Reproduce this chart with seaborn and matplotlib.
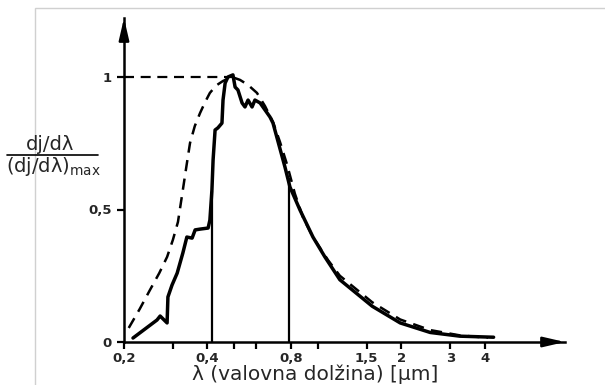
import numpy as np
import pandas as pd
import matplotlib
matplotlib.use("Agg")
import matplotlib.pyplot as plt
from matplotlib.lines import Line2D
from matplotlib.patches import Rectangle
import seaborn as sns

# ---- data ----
# black body (dashed) curve
bb_lambda = [0.208, 0.228, 0.248, 0.268, 0.286, 0.300, 0.313, 0.326, 0.336, 0.346,
             0.360, 0.376, 0.392, 0.408, 0.430, 0.455, 0.49,
             0.524, 0.560, 0.603, 0.645, 0.689, 0.730, 0.774, 0.826, 0.884, 0.96,
             1.088, 1.2, 1.57, 1.98, 2.54, 3.25, 4.1]
bb_value = [0.053, 0.125, 0.196, 0.260, 0.321, 0.385, 0.453, 0.574, 0.665, 0.751,
            0.815, 0.864, 0.905, 0.94, 0.968, 0.985, 1.0,
            0.989, 0.970, 0.94, 0.890, 0.83, 0.755, 0.67, 0.56, 0.47, 0.396,
            0.309, 0.25, 0.15, 0.085, 0.045, 0.025, 0.016]
# solar spectrum (solid) curve
sun_lambda = [0.2155, 0.263, 0.270, 0.286, 0.288, 0.298, 0.311, 0.326, 0.337, 0.352,
              0.361, 0.376, 0.402, 0.408, 0.415, 0.419, 0.426, 0.436, 0.451, 0.455,
              0.463, 0.474, 0.494, 0.503, 0.515, 0.533, 0.546, 0.56, 0.579, 0.593,
              0.619, 0.672, 0.689, 0.761, 0.793, 0.862, 0.96, 1.06, 1.2, 1.57,
              1.98, 2.54, 3.25, 4.3]
sun_value = [0.015, 0.083, 0.098, 0.072, 0.17, 0.215, 0.26, 0.336, 0.396, 0.392,
             0.423, 0.426, 0.43, 0.46, 0.574, 0.687, 0.80, 0.808, 0.826, 0.913,
             0.977, 1.0, 1.008, 0.962, 0.951, 0.902, 0.887, 0.913, 0.887, 0.913,
             0.902, 0.849, 0.826, 0.66, 0.585, 0.498, 0.396, 0.321, 0.235, 0.135,
             0.072, 0.036, 0.022, 0.018]
# visible range boundaries
vis_lambda = [0.415, 0.785]
vis_top = [0.57, 0.62]
# ticks
major_ticks = [0.2, 0.4, 0.8, 1.5, 2, 3, 4]
major_labels = ["0,2", "0,4", "0,8", "1,5", "2", "3", "4"]
minor_ticks = [0.3, 0.5, 0.6, 1.0]
y_ticks = [0, 0.5, 1]
y_labels = ["0", "0,5", "1"]

sns.set_style("white")
plt.rcParams["font.family"] = ["DejaVu Sans"]

W, H = 605, 385
fig = plt.figure(figsize=(W / 100, H / 100), dpi=100)
ax = fig.add_axes([124 / W, 43 / H, (565 - 124) / W, (342 - 18) / H])

bb = pd.DataFrame({"lam": bb_lambda, "val": bb_value})
sun = pd.DataFrame({"lam": sun_lambda, "val": sun_value})

sns.lineplot(data=bb, x="lam", y="val", ax=ax, color="black", lw=1.8,
             linestyle=(0, (4.5, 3)), sort=False)
sns.lineplot(data=sun, x="lam", y="val", ax=ax, color="black", lw=2.5, sort=False)
ax.vlines(vis_lambda, 0, vis_top, color="black", lw=1.6)
ax.hlines(1, 0.2, bb_lambda[bb_value.index(1.0)], color="black", lw=1.6,
          linestyle=(0, (4.5, 3)))

ax.set_xscale("log")
ax.set_xlim(0.2, 0.2 * 2 ** (441 / 83.5))
ax.set_ylim(0, 324 / 265)

ax.set_xticks(major_ticks)
ax.set_xticklabels(major_labels, fontsize=9.5, fontweight="bold")
ax.set_xticks(minor_ticks, minor=True)
ax.xaxis.set_minor_formatter(plt.NullFormatter())
ax.set_yticks(y_ticks)
ax.set_yticklabels(y_labels, fontsize=9.5, fontweight="bold")
ax.tick_params(axis="both", which="both", direction="out", length=5, width=1.6,
               color="black", bottom=True, left=True)
ax.tick_params(axis="x", pad=2)
ax.tick_params(axis="y", pad=4)

for s in ["top", "right"]:
    ax.spines[s].set_visible(False)
for s in ["left", "bottom"]:
    ax.spines[s].set_linewidth(1.8)
    ax.spines[s].set_color("black")

ax.set_xlabel("")
ax.set_ylabel("")

# arrow heads
ax.annotate("", xy=(1.0, 0), xytext=(0.955, 0), xycoords="axes fraction",
            arrowprops=dict(arrowstyle="-|>,head_length=1.3,head_width=0.3",
                            color="black", lw=1.8, shrinkA=0, shrinkB=0))
ax.annotate("", xy=(0, 1.0), xytext=(0, 0.95), xycoords="axes fraction",
            arrowprops=dict(arrowstyle="-|>,head_length=1.3,head_width=0.3",
                            color="black", lw=1.8, shrinkA=0, shrinkB=0))

# axis labels
fig.text(315 / W, 1 - 374 / H, "λ (valovna dolžina) [μm]", ha="center", va="center",
         fontsize=14.5)
fig.text(50 / W, 1 - 145 / H, "dj/dλ", ha="center", va="center", fontsize=14)
fig.add_artist(Line2D([7 / W, 98 / W], [1 - 155 / H, 1 - 155 / H], color="black",
                      lw=1.2, transform=fig.transFigure))
fig.text(6 / W, 1 - 167 / H, r"(dj/dλ)$_{\mathregular{max}}$", ha="left", va="center",
         fontsize=14)

# faint scan border
fig.add_artist(Rectangle((35 / W, -0.1), 1.2, 1.1 - 8 / H, fill=False,
                         ec="#d0d0d0", lw=1.0, transform=fig.transFigure))

fig.savefig("out.png", dpi=100)
